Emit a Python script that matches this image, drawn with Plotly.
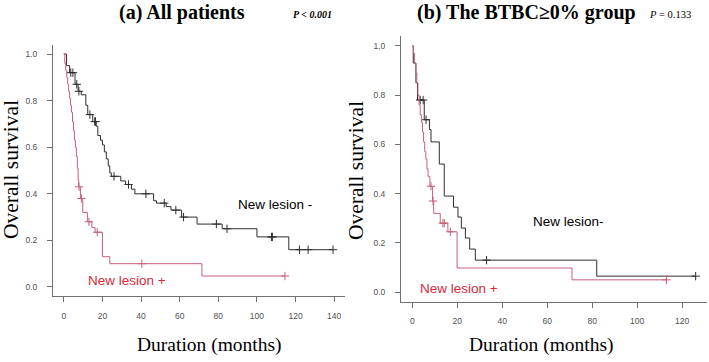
import plotly.graph_objects as go

W, H = 709, 362

# ---------------- data ----------------
# Panel (a) All patients
a_neg_t = [0, 1.4, 3.0, 5.8, 7.4, 9.0, 11.4, 12.4, 15.0, 16.8, 17.6, 19.0, 20.0, 21.0, 22.0, 23.0,
           23.8, 24.6, 29.5, 32.0, 35.0, 36.8, 46.5, 48.0, 53.0, 55.5, 61.0, 69.0, 82.0, 100.0, 116.5]
a_neg_s = [1.0, 0.95, 0.92, 0.87, 0.84, 0.825, 0.78, 0.74, 0.71, 0.69, 0.65, 0.63, 0.61, 0.58, 0.55, 0.52,
           0.49, 0.475, 0.455, 0.44, 0.42, 0.40, 0.37, 0.36, 0.345, 0.33, 0.30, 0.27, 0.25, 0.215, 0.16]
a_neg_c = [3.6, 4.7, 6.7, 7.8, 13.5, 16.0, 16.4, 26.0, 33.5, 42.5, 52.0, 58.0, 62.0, 79.0, 84.5,
           107.5, 108.0, 122.0, 126.5, 139.4]

a_pos_t = [0, 0.5, 1.0, 1.5, 2.0, 2.5, 3.0, 3.5, 4.0, 4.5, 5.0, 5.5, 6.0, 6.5, 7.0, 7.4, 7.7,
           8.6, 9.8, 12.2, 14.5, 16.2, 20.0, 23.8, 71.5]
a_pos_s = [1.0, 0.96, 0.93, 0.90, 0.87, 0.84, 0.81, 0.78, 0.75, 0.71, 0.67, 0.63, 0.60, 0.56, 0.51, 0.46, 0.43,
           0.38, 0.32, 0.28, 0.255, 0.235, 0.13, 0.10, 0.047]
a_pos_c = [7.9, 9.1, 13.0, 17.3, 40.4, 114.5]

# Panel (b) BTBC>=0% group
b_neg_t = [0, 0.4, 1.6, 2.3, 5.3, 7.6, 8.3, 12.0, 14.2, 18.3, 20.3, 21.8, 23.6, 25.5, 28.0, 82.0]
b_neg_s = [1.0, 0.93, 0.85, 0.78, 0.70, 0.66, 0.61, 0.52, 0.39, 0.345, 0.305, 0.26, 0.22, 0.175, 0.13, 0.065]
b_neg_c = [3.5, 4.8, 6.1, 33.0, 126.0]

b_pos_t = [0, 0.5, 1.0, 1.5, 2.0, 2.5, 3.0, 3.5, 4.0, 4.5, 5.0, 5.5, 6.0, 6.5, 7.0, 7.8, 9.0, 9.5,
           12.4, 15.8, 19.9, 71.0]
b_pos_s = [1.0, 0.97, 0.93, 0.89, 0.85, 0.80, 0.76, 0.72, 0.69, 0.65, 0.61, 0.57, 0.54, 0.50, 0.47, 0.43,
           0.37, 0.32, 0.28, 0.245, 0.098, 0.05]
b_pos_c = [8.3, 9.2, 13.6, 14.2, 16.9, 113.0]

x_ticks_a = [0, 20, 40, 60, 80, 100, 120, 140]
x_ticks_b = [0, 20, 40, 60, 80, 100, 120]
y_ticks = [0.0, 0.2, 0.4, 0.6, 0.8, 1.0]
y_tick_text = ["0.0", "0.2", "0.4", "0.6", "0.8", "1.0"]

BLACK = "#2e2e2e"
PINK = "#c8607a"
RED_TXT = "#d42a3a"
AXC = "#707070"


def surv_at(ts, ss, t):
    v = ss[0]
    for ti, si in zip(ts, ss):
        if ti <= t:
            v = si
    return v


def add_km(fig, ts, ss, cs, color, xa, ya):
    end = max(ts[-1], max(cs))
    fig.add_trace(go.Scatter(x=list(ts) + [end], y=list(ss) + [ss[-1]], mode="lines",
                             line=dict(color=color, width=1, shape="hv"),
                             xaxis=xa, yaxis=ya, showlegend=False, hoverinfo="skip"))
    fig.add_trace(go.Scatter(x=cs, y=[surv_at(ts, ss, c) for c in cs], mode="markers",
                             marker=dict(symbol="cross-thin", size=6, color=color,
                                         line=dict(color=color, width=1)),
                             xaxis=xa, yaxis=ya, showlegend=False, hoverinfo="skip"))


fig = go.Figure()
add_km(fig, a_neg_t, a_neg_s, a_neg_c, BLACK, "x", "y")
add_km(fig, a_pos_t, a_pos_s, a_pos_c, PINK, "x", "y")
add_km(fig, b_neg_t, b_neg_s, b_neg_c, BLACK, "x2", "y2")
add_km(fig, b_pos_t, b_pos_s, b_pos_c, PINK, "x2", "y2")


def px(x):
    return x / W


def py(y):
    return 1 - y / H


tickfont = dict(family="Liberation Sans, Arial", size=8.5, color="#505050")
common_x = dict(showline=True, linecolor=AXC, linewidth=1, ticks="outside", ticklen=5, tickcolor=AXC,
                tickfont=tickfont, showgrid=False, zeroline=False, ticklabelstandoff=6, mirror=False)
common_y = dict(showline=True, linecolor=AXC, linewidth=1, ticks="outside", ticklen=5, tickcolor=AXC,
                tickfont=tickfont, showgrid=False, zeroline=False, ticklabelstandoff=8, mirror=False,
                range=[-0.04, 1.04], tickvals=y_ticks, ticktext=y_tick_text)

fig.update_layout(
    width=W, height=H, margin=dict(l=0, r=0, t=0, b=0),
    paper_bgcolor="white", plot_bgcolor="white",
    xaxis=dict(domain=[px(53), px(345)], range=[-5.6, 145.6], tickvals=x_ticks_a, anchor="y", **common_x),
    yaxis=dict(domain=[py(296.3), py(44.7)], anchor="x", **common_y),
    xaxis2=dict(domain=[px(401), px(707)], range=[-5.04, 131.04], tickvals=x_ticks_b, anchor="y2", **common_x),
    yaxis2=dict(domain=[py(302), py(36)], anchor="x2", **common_y),
)

serif = "Liberation Serif, Times New Roman, serif"
sans = "Liberation Sans, Arial, sans-serif"


def ann(text, x, y, size, family, color="black", angle=0):
    fig.add_annotation(text=text, x=px(x), y=py(y), xref="paper", yref="paper", showarrow=False,
                       xanchor="center", yanchor="middle", textangle=angle,
                       font=dict(size=size, family=family, color=color))


ann("<b>(a) All patients</b>", 182, 12, 20, serif)
ann("<b><i>P &lt; 0.001</i></b>", 312, 14, 10, serif)
ann("<b>(b) The BTBC≥0% group</b>", 526, 12, 20, serif)
ann("<i>P</i> = 0.133", 670, 14, 10.5, serif)

ann("Overall survival", 11, 170, 21.5, serif, angle=-90)
ann("Overall survival", 356, 171, 21.5, serif, angle=-90)
ann("Duration (months)", 209, 345, 19.5, serif)
ann("Duration (months)", 541, 345, 19.5, serif)

ann("New lesion -", 275, 204, 13.5, sans)
ann("New lesion +", 127, 280, 13.5, sans, color=RED_TXT)
ann("New lesion-", 568, 221, 13.5, sans)
ann("New lesion +", 459, 288, 13.5, sans, color=RED_TXT)

fig.write_html("out.html")
